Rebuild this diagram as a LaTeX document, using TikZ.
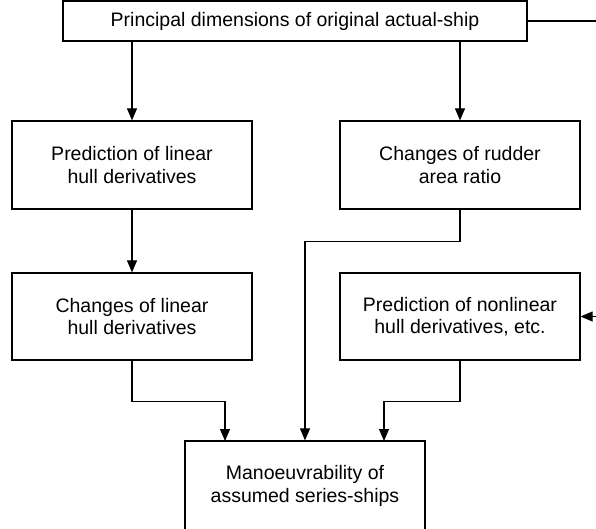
\documentclass[tikz,border=0pt]{standalone}
\usepackage{fontspec}
\setmainfont{Liberation Sans}
\usetikzlibrary{arrows.meta,calc}
\begin{document}
\begin{tikzpicture}[x=1pt,y=-1pt,
  box/.style={draw,line width=1.2pt,inner sep=0pt,align=center,font=\fontsize{19.5}{22.5}\selectfont},
  arr/.style={line width=1.1pt,-{Triangle[length=12pt,width=10pt]}},
  ln/.style={line width=1.1pt}]
\useasboundingbox (0,0) rectangle (596,528);
\node[box,minimum width=464pt,minimum height=40pt] (top) at (295,21) {Principal dimensions of original actual-ship};
\node[box,minimum width=240pt,minimum height=88pt] (b1) at (132,165) {Prediction of linear\\hull derivatives};
\node[box,minimum width=240pt,minimum height=88pt] (b2) at (460,165) {Changes of rudder\\area ratio};
\node[box,minimum width=240pt,minimum height=87pt] (b3) at (132,316.5) {Changes of linear\\hull derivatives};
\node[box,minimum width=240pt,minimum height=87pt] (b4) at (460,316.5) {Prediction of nonlinear\\hull derivatives, etc.};
\node[box,minimum width=240pt,minimum height=90pt] (b5) at (305,486) {Manoeuvrability of\\assumed series-ships};
\coordinate (in1) at (225,441);
\coordinate (in3) at (384,441);
\coordinate (r1) at (596,21);
\coordinate (r2) at (596,316.5);
\draw[arr] (top.south -| b1.north) -- (b1.north);
\draw[arr] (top.south -| b2.north) -- (b2.north);
\draw[arr] (b1.south) -- (b3.north);
\draw[arr] (b2.south) -- ++(0,32) -| (b5.north);
\draw[arr] (b3.south) -- ++(0,41) -| (in1);
\draw[arr] (b4.south) -- ++(0,41) -| (in3);
\draw[ln] (top.east) -- (r1);
\draw[arr] (r2) -- (b4.east);
\end{tikzpicture}
\end{document}
